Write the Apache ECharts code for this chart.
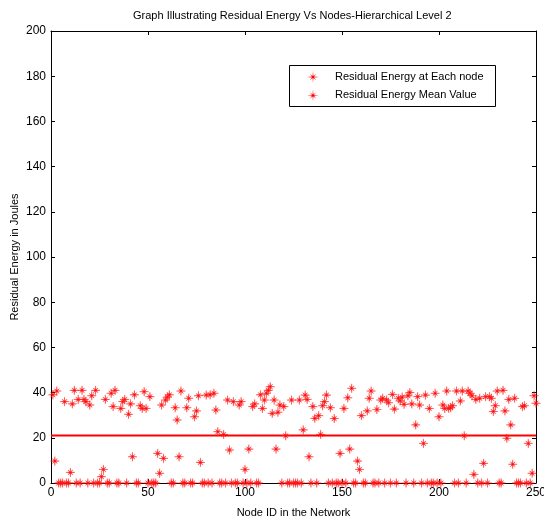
<!DOCTYPE html>
<html>
<head>
<meta charset="utf-8">
<script src="https://cdn.jsdelivr.net/npm/echarts@6/dist/echarts.min.js"></script>
<style>html,body{margin:0;padding:0;background:#fff;}#c{width:544px;height:523px;}</style>
</head>
<body>
<div id="c"></div>
<script>
// ---- data ----
const titleText = 'Graph Illustrating Residual Energy Vs Nodes-Hierarchical Level 2';
const xName = 'Node ID in the Network';
const yName = 'Residual Energy in Joules';
const seriesNames = ['Residual Energy at Each node', 'Residual Energy Mean Value'];
const xTicks = [0, 50, 100, 150, 200, 250];
const yTicks = [0, 20, 40, 60, 80, 100, 120, 140, 160, 180, 200];
// residual energy of nodes 1..250
const residualEnergy = [
  39, 9.7, 40.7, 0, 0, 0, 36, 0, 0, 4.7,
  35, 41, 0, 37, 0, 41, 37, 36, 0, 34.5,
  38.6, 0, 41, 0, 0, 2.8, 6, 37, 0, 0,
  39.7, 33.8, 41, 0, 0, 33, 36, 37, 0, 30.4,
  35, 11.6, 39, 0, 0, 34.2, 33, 40.4, 33, 0,
  38.2, 0, 0, 0, 13.1, 4.3, 34.5, 10.9, 36.7, 38,
  39, 0, 0, 33.3, 27.9, 11.6, 40.7, 0, 0, 33.3,
  37.5, 0, 0, 29.3, 31.9, 38.6, 9.1, 0, 0, 38.9,
  0, 39, 0, 39.7, 32.3, 22.7, 0, 0, 21.5, 0,
  36.7, 14.6, 0, 36, 0, 0, 34.5, 36, 0, 6,
  0, 15, 0, 33.8, 35, 0, 0, 39, 33, 36.7,
  39.7, 41, 42.6, 30.8, 36.7, 15, 31.3, 34.5, 0, 33.8,
  20.9, 0, 0, 36.7, 0, 0, 0, 36.7, 0, 23.5,
  38.9, 37, 11.6, 0, 33.8, 28.6, 0, 29.8, 21.5, 34.2,
  36, 38.9, 0, 33.3, 0, 28.5, 0, 0, 13.1, 0,
  33, 0, 37.7, 15, 41.9, 0, 0, 9.7, 6, 29.8,
  0, 0, 31.9, 37.5, 40.7, 0, 0, 32.5, 0, 36.7,
  37.5, 0, 36.7, 35.5, 0, 39.2, 32.7, 0, 37.5, 36.3,
  38, 34.8, 0, 38.6, 40, 35, 0, 25.7, 38.2, 34.5,
  0, 17.5, 38.9, 0, 33, 0, 0, 39.7, 0, 29.3,
  0, 34.5, 33, 40.7, 33, 33.3, 34.2, 0, 40.7, 0,
  36.3, 40.7, 20.9, 0, 40.7, 39.7, 38.6, 3.8, 37, 0,
  37.5, 0, 8.7, 38.2, 0, 38.2, 37.5, 31.6, 34.2, 40.7,
  0, 0, 41, 31.9, 19.8, 37, 25.7, 8.3, 37.5, 0,
  0, 0, 33.8, 34.2, 0, 17.5, 0, 4.3, 38.6, 35.3
];
const nodeIds = residualEnergy.map((v, i) => i + 1);
const meanValue = 21;
const meanRange = [0, 250];

// ---- chart ----
const FONT = '"Liberation Sans", Arial, Helvetica, sans-serif';
const STAR = 'path://M2,1L1.166,1.069L1.53,1.53L1.069,1.166L1,2L0.931,1.166L0.47,1.53L0.834,1.069L0,1L0.834,0.931L0.47,0.47L0.931,0.834L1,0L1.069,0.834L1.53,0.47L1.166,0.931Z';
const chart = echarts.init(document.getElementById('c'), null, {renderer: 'canvas'});

const axisCommon = {
  axisLine: {show: true, onZero: false, lineStyle: {color: '#000', width: 1}},
  axisTick: {show: true, inside: true, length: 4, lineStyle: {color: '#000'}},
  splitLine: {show: false}
};

chart.setOption({
  animation: false,
  backgroundColor: '#fff',
  title: {
    text: titleText,
    left: 128, top: 5,
    textStyle: {fontFamily: FONT, fontSize: 11, fontWeight: 'normal', color: '#000'}
  },
  grid: {left: 51, right: 8, top: 31, bottom: 40, containLabel: false, outerBoundsMode: 'none'},
  legend: {
    orient: 'vertical',
    left: 307, top: 71,
    padding: 0,
    itemGap: 6.4,
    itemWidth: 12, itemHeight: 12,
    itemStyle: {color: '#ff0000', borderWidth: 0},
    textStyle: {fontFamily: FONT, fontSize: 11, color: '#000', lineHeight: 12, padding: [0, 0, 0, 11]},
    data: [
      {name: seriesNames[0], icon: STAR},
      {name: seriesNames[1], icon: STAR}
    ]
  },
  graphic: [{
    type: 'rect',
    shape: {x: 289.5, y: 65.5, width: 206, height: 41},
    style: {fill: 'none', stroke: '#000', lineWidth: 1},
    z: 100
  }],
  xAxis: [
    Object.assign({
      type: 'value', min: xTicks[0], max: xTicks[xTicks.length - 1], interval: 50,
      name: xName, nameLocation: 'middle', nameGap: 24, nameMoveOverlap: false,
      nameTextStyle: {fontFamily: FONT, fontSize: 11, color: '#000'},
      axisLabel: {fontFamily: FONT, fontSize: 12, color: '#000', margin: 4}
    }, axisCommon),
    Object.assign({
      type: 'value', position: 'top', min: xTicks[0], max: xTicks[xTicks.length - 1], interval: 50,
      axisLabel: {show: false}
    }, axisCommon)
  ],
  yAxis: [
    Object.assign({
      type: 'value', min: yTicks[0], max: yTicks[yTicks.length - 1], interval: 20,
      name: yName, nameLocation: 'middle', nameGap: 31, nameMoveOverlap: false,
      nameTextStyle: {fontFamily: FONT, fontSize: 11, color: '#000'},
      axisLabel: {fontFamily: FONT, fontSize: 12, color: '#000', margin: 5}
    }, axisCommon),
    Object.assign({
      type: 'value', position: 'right', min: yTicks[0], max: yTicks[yTicks.length - 1], interval: 20,
      axisLabel: {show: false}
    }, axisCommon)
  ],
  series: [
    {
      name: seriesNames[1],
      type: 'line',
      xAxisIndex: 0, yAxisIndex: 0,
      data: meanRange.map(x => [x, meanValue]),
      showSymbol: false,
      symbol: STAR,
      legendIcon: STAR,
      itemStyle: {color: '#ff0000', borderWidth: 0},
      lineStyle: {color: '#ff0000', width: 2},
      z: 2
    },
    {
      name: seriesNames[0],
      type: 'scatter',
      xAxisIndex: 0, yAxisIndex: 0,
      data: nodeIds.map((id, i) => [id, residualEnergy[i]]),
      symbol: STAR,
      legendIcon: STAR,
      symbolSize: 9,
      itemStyle: {color: '#ff0000', borderColor: '#ff2020', borderWidth: 0.4, opacity: 1},
      clip: false,
      z: 3
    }
  ]
});
</script>
</body>
</html>
